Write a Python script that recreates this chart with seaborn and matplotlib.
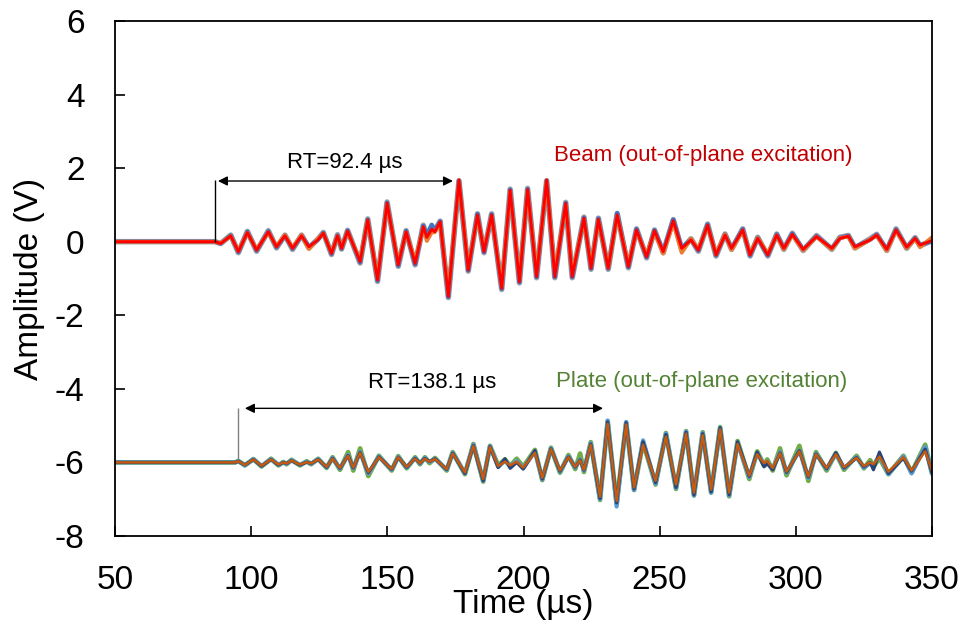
import numpy as np
import pandas as pd
import seaborn as sns
import matplotlib.pyplot as plt

# ---- beam signals (out-of-plane excitation) ----
t_beam = [50, 86.7, 88.8, 92.5, 95.3, 98.6, 102.0, 106.3, 109.3, 112.4,
          115.2, 118.5, 121.2, 124.5, 126.5, 129.5, 131.7, 133.2, 135.4, 140.0,
          142.8, 146.4, 149.9, 154.0, 156.9, 160.2, 163.2, 164.5, 166.3, 167.4,
          169.4, 172.4, 176.3, 179.7, 183.1, 185.5, 188.3, 192.0, 195.1, 198.5,
          201.5, 204.8, 208.5, 211.5, 215.5, 217.9, 222.2, 224.8, 227.5, 231.1,
          234.4, 238.5, 241.5, 245.2, 248.1, 251.3, 255.0, 258.1, 261.5, 264.2,
          267.6, 270.7, 274.0, 276.4, 280.5, 283.2, 286.0, 289.7, 293.0, 295.6,
          298.7, 302.7, 307.6, 313.2, 316.2, 319.3, 321.7, 327.3, 329.7, 333.4,
          336.8, 340.7, 343.8, 345.6, 350.0]

beam_red = [0, 0, -0.05, 0.16, -0.27, 0.25, -0.23, 0.27, -0.14, 0.16,
            -0.18, 0.16, -0.14, 0.05, 0.23, -0.32, 0.16, -0.18, 0.29, -0.54,
            0.59, -1.04, 1.05, -0.63, 0.27, -0.59, 0.41, 0.12, 0.34, 0.27,
            0.54, -1.49, 1.68, -0.77, 0.73, -0.27, 0.73, -1.27, 1.40, -1.09,
            1.42, -0.95, 1.68, -0.95, 1.04, -0.95, 0.64, -0.72, 0.61, -0.72,
            0.73, -0.68, 0.32, -0.41, 0.30, -0.27, 0.57, -0.18, 0.05, -0.23,
            0.45, -0.36, 0.18, -0.18, 0.32, -0.36, 0.09, -0.36, 0.18, -0.18,
            0.20, -0.21, 0.14, -0.18, 0.09, 0.15, -0.14, 0.05, 0.18, -0.21,
            0.32, -0.15, 0.09, -0.09, 0.03]

beam_gray = [0, 0, -0.05, 0.18, -0.30, 0.28, -0.26, 0.30, -0.17, 0.18,
             -0.21, 0.18, -0.17, 0.07, 0.25, -0.35, 0.19, -0.20, 0.31, -0.58,
             0.62, -1.08, 1.08, -0.67, 0.30, -0.63, 0.45, 0.14, 0.40, 0.30,
             0.56, -1.52, 1.66, -0.80, 0.76, -0.30, 0.76, -1.30, 1.43, -1.12,
             1.45, -0.98, 1.66, -0.98, 1.07, -0.98, 0.67, -0.75, 0.64, -0.75,
             0.76, -0.71, 0.35, -0.44, 0.32, -0.30, 0.60, -0.21, 0.08, -0.26,
             0.48, -0.39, 0.21, -0.21, 0.35, -0.39, 0.12, -0.39, 0.21, -0.21,
             0.23, -0.24, 0.17, -0.21, 0.12, 0.17, -0.17, 0.08, 0.20, -0.24,
             0.35, -0.18, 0.11, -0.11, 0.03]

beam_blue = [0, 0, -0.05, 0.17, -0.28, 0.27, -0.24, 0.28, -0.15, 0.17,
             -0.19, 0.17, -0.15, 0.06, 0.24, -0.33, 0.17, -0.19, 0.30, -0.56,
             0.60, -1.06, 1.06, -0.65, 0.29, -0.61, 0.43, 0.18, 0.46, 0.30,
             0.55, -1.50, 1.65, -0.78, 0.75, -0.28, 0.74, -1.28, 1.41, -1.10,
             1.43, -0.96, 1.65, -0.96, 1.05, -0.96, 0.65, -0.73, 0.63, -0.73,
             0.78, -0.69, 0.34, -0.42, 0.31, -0.28, 0.60, -0.19, 0.07, -0.24,
             0.47, -0.37, 0.20, -0.19, 0.34, -0.37, 0.11, -0.37, 0.20, -0.19,
             0.22, -0.22, 0.15, -0.19, 0.11, 0.16, -0.15, 0.06, 0.19, -0.22,
             0.33, -0.16, 0.10, -0.10, 0.02]

beam_orange = [0, 0, -0.04, 0.15, -0.25, 0.24, -0.21, 0.25, -0.12, 0.18,
               -0.16, 0.18, -0.20, 0.08, 0.22, -0.30, 0.15, -0.16, 0.27, -0.50,
               0.57, -1.00, 1.02, -0.58, 0.25, -0.52, 0.38, 0.02, 0.25, 0.26,
               0.50, -1.40, 1.62, -0.70, 0.68, -0.22, 0.70, -1.20, 1.36, -1.02,
               1.38, -0.88, 1.62, -0.85, 1.00, -0.88, 0.60, -0.66, 0.58, -0.70,
               0.70, -0.62, 0.28, -0.36, 0.26, -0.32, 0.52, -0.30, 0.08, -0.20,
               0.42, -0.33, 0.20, -0.22, 0.30, -0.33, 0.10, -0.32, 0.17, -0.20,
               0.18, -0.23, 0.13, -0.20, 0.10, 0.14, -0.18, 0.06, 0.17, -0.24,
               0.30, -0.17, 0.08, -0.15, 0.12]

# ---- plate signals (out-of-plane excitation) ----
t_plate = [50, 94.1, 95.3, 97.7, 100.8, 103.8, 107.3, 110.0, 111.8, 113.0,
           114.8, 117.9, 120.4, 122.0, 124.6, 127.7, 129.9, 132.6, 135.6, 137.5,
           140.0, 143.0, 146.9, 151.6, 154.0, 157.1, 160.2, 162.0, 163.8, 165.5,
           167.5, 171.8, 174.0, 178.5, 181.6, 185.2, 187.7, 190.7, 193.2, 195.1,
           197.5, 199.9, 204.2, 206.9, 210.1, 213.4, 216.5, 219.0, 220.8, 222.2,
           224.7, 228.1, 230.9, 234.2, 237.7, 240.6, 243.9, 248.5, 252.3, 256.0,
           259.7, 262.6, 265.8, 268.9, 272.2, 275.5, 278.6, 282.9, 285.8, 288.3,
           289.5, 291.5, 294.2, 296.6, 301.3, 304.6, 307.4, 311.3, 314.7, 317.7,
           322.3, 325.0, 327.3, 328.5, 330.7, 334.0, 339.5, 342.5, 347.5, 350.0]

plate_brown = [-6.0, -6.0, -5.97, -6.07, -5.92, -6.09, -5.92, -6.06, -6.00, -6.03,
               -5.95, -6.06, -5.99, -6.03, -5.92, -6.12, -5.90, -6.15, -5.82, -6.14,
               -5.74, -6.26, -5.86, -6.18, -5.86, -6.12, -5.90, -6.02, -5.90, -5.98,
               -5.91, -6.18, -5.76, -6.27, -5.55, -6.45, -5.58, -6.10, -5.98, -6.08,
               -5.98, -6.14, -5.74, -6.42, -5.64, -6.22, -5.86, -6.12, -5.94, -6.20,
               -5.52, -6.93, -4.95, -7.05, -4.97, -6.68, -5.52, -6.50, -5.30, -6.60,
               -5.22, -6.82, -5.26, -6.74, -5.10, -6.82, -5.50, -6.36, -5.78, -6.02,
               -5.96, -6.15, -5.75, -6.25, -5.70, -6.38, -5.78, -6.15, -5.78, -6.13,
               -5.88, -6.10, -6.00, -6.05, -5.84, -6.25, -5.86, -6.22, -5.70, -6.22]

plate_green = [-6.0, -6.0, -5.96, -6.08, -5.91, -6.11, -5.90, -6.08, -5.99, -6.05,
               -5.93, -6.08, -5.97, -6.05, -5.90, -6.15, -5.86, -6.20, -5.72, -6.22,
               -5.62, -6.37, -5.82, -6.22, -5.83, -6.16, -5.86, -6.05, -5.86, -6.02,
               -5.88, -6.22, -5.72, -6.32, -5.50, -6.52, -5.55, -6.08, -5.92, -6.10,
               -5.90, -6.12, -5.66, -6.48, -5.60, -6.28, -5.80, -6.18, -5.76, -6.26,
               -5.45, -7.02, -4.88, -7.12, -4.92, -6.75, -5.45, -6.60, -5.20, -6.72,
               -5.15, -6.90, -5.18, -6.82, -5.04, -6.92, -5.42, -6.45, -5.70, -6.08,
               -5.92, -6.22, -5.62, -6.35, -5.55, -6.50, -5.72, -6.22, -5.74, -6.20,
               -5.82, -6.16, -5.94, -6.12, -5.88, -6.32, -5.82, -6.28, -5.52, -6.30]

plate_lightblue = [-6.0, -6.0, -5.97, -6.08, -5.91, -6.10, -5.91, -6.07, -6.00, -6.04,
                   -5.94, -6.07, -5.98, -6.04, -5.91, -6.14, -5.88, -6.17, -5.80, -6.16,
                   -5.72, -6.30, -5.84, -6.20, -5.85, -6.14, -5.88, -6.03, -5.88, -5.99,
                   -5.90, -6.20, -5.74, -6.30, -5.52, -6.50, -5.56, -6.12, -5.96, -6.10,
                   -5.96, -6.16, -5.70, -6.46, -5.62, -6.25, -5.84, -6.14, -5.92, -6.22,
                   -5.48, -7.00, -4.86, -7.20, -4.90, -6.75, -5.40, -6.58, -5.22, -6.70,
                   -5.16, -6.90, -5.20, -6.82, -5.06, -6.90, -5.46, -6.40, -5.74, -6.05,
                   -5.98, -6.18, -5.72, -6.28, -5.68, -6.42, -5.76, -6.18, -5.76, -6.16,
                   -5.86, -6.14, -6.02, -6.08, -5.80, -6.32, -5.84, -6.30, -5.58, -6.30]

plate_darkblue = [-6.0, -6.0, -5.97, -6.07, -5.92, -6.10, -5.92, -6.07, -6.00, -6.03,
                  -5.95, -6.07, -5.99, -6.03, -5.92, -6.13, -5.89, -6.16, -5.81, -6.15,
                  -5.73, -6.28, -5.85, -6.19, -5.86, -6.13, -5.89, -6.02, -5.89, -5.98,
                  -5.90, -6.19, -5.75, -6.30, -5.54, -6.50, -5.57, -6.14, -5.90, -6.16,
                  -6.00, -6.18, -5.68, -6.45, -5.63, -6.24, -5.85, -6.13, -5.93, -6.21,
                  -5.50, -6.98, -4.90, -7.10, -4.92, -6.72, -5.44, -6.55, -5.24, -6.68,
                  -5.18, -6.88, -5.22, -6.80, -5.06, -6.88, -5.44, -6.38, -5.72, -6.12,
                  -6.04, -6.20, -5.74, -6.27, -5.68, -6.40, -5.77, -6.17, -5.74, -6.15,
                  -5.87, -6.12, -6.00, -6.20, -5.72, -6.30, -5.88, -6.24, -5.64, -6.28]

beam_traces = [(beam_gray, '#A5A5A5', 4.0), (beam_blue, '#4472C4', 3.2),
               (beam_orange, '#ED7D31', 2.8), (beam_red, '#FF0000', 2.1)]
plate_traces = [(plate_green, '#70AD47', 3.4), (plate_lightblue, '#5B9BD5', 3.0),
                (plate_darkblue, '#264478', 2.3), (plate_brown, '#C55A11', 1.8)]

# annotation positions (data units)
beam_rt_start, beam_rt_end, beam_rt_y = 86.7, 174.1, 1.65
plate_rt_start, plate_rt_end, plate_rt_y = 95.0, 229.2, -4.53

sns.set_style('white')
plt.rcParams['font.family'] = ['Liberation Sans', 'DejaVu Sans']
plt.rcParams['axes.unicode_minus'] = False
plt.rcParams['lines.solid_joinstyle'] = 'round'

fig, ax = plt.subplots(figsize=(9.64, 6.21), dpi=100)
fig.subplots_adjust(left=0.1193, right=0.9668, top=0.9662, bottom=0.1369)

for vals, col, lw in beam_traces:
    df = pd.DataFrame({'t': t_beam, 'V': vals})
    sns.lineplot(data=df, x='t', y='V', color=col, linewidth=lw, ax=ax,
                 estimator=None, sort=False)
for vals, col, lw in plate_traces:
    df = pd.DataFrame({'t': t_plate, 'V': vals})
    sns.lineplot(data=df, x='t', y='V', color=col, linewidth=lw, ax=ax,
                 estimator=None, sort=False)

ax.set_xlim(50, 350)
ax.set_ylim(-8, 6)
ax.set_xticks(np.arange(50, 351, 50))
ax.set_yticks(np.arange(-8, 7, 2))
ax.tick_params(axis='x', direction='in', length=7, width=1.2, labelsize=24,
               pad=21, bottom=True, colors='black')
ax.tick_params(axis='y', direction='in', length=7, width=1.2, labelsize=24,
               pad=22, left=True, colors='black')
for s in ax.spines.values():
    s.set_color('black')
    s.set_linewidth(1.3)

ax.set_xlabel('Time (µs)', fontsize=24, color='black')
ax.xaxis.set_label_coords(0.5, -0.102)
ax.set_ylabel('Amplitude (V)', fontsize=24, color='black')
ax.yaxis.set_label_coords(-0.086, 0.5)

# beam RT marker
ax.vlines(beam_rt_start, 0, beam_rt_y + 0.03, color='black', lw=1)
ax.annotate('', xy=(beam_rt_start + 1.1, beam_rt_y), xytext=(beam_rt_end, beam_rt_y),
            arrowprops=dict(arrowstyle='<|-|>', color='black', lw=1,
                            mutation_scale=14, shrinkA=0, shrinkB=0))
ax.text(134.5, 2.14, 'RT=92.4 µs', fontsize=16, ha='center', va='center', color='black')
ax.text(265.9, 2.33, 'Beam (out-of-plane excitation)', fontsize=16,
        ha='center', va='center', color='#C00000')

# plate RT marker
ax.vlines(plate_rt_start, plate_rt_y, -5.92, color='#808080', lw=1)
ax.annotate('', xy=(plate_rt_start + 2.7, plate_rt_y), xytext=(plate_rt_end, plate_rt_y),
            arrowprops=dict(arrowstyle='<|-|>', color='black', lw=1,
                            mutation_scale=14, shrinkA=0, shrinkB=0))
ax.text(166.4, -3.84, 'RT=138.1 µs', fontsize=16, ha='center', va='center', color='black')
ax.text(265.4, -3.80, 'Plate (out-of-plane excitation)', fontsize=16,
        ha='center', va='center', color='#548235')

fig.savefig('out.png', dpi=100)
